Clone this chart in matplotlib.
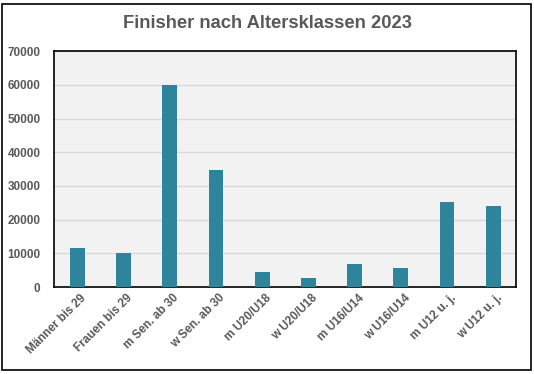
import matplotlib
matplotlib.use('Agg')
import matplotlib.pyplot as plt
import matplotlib.transforms as mtrans
from matplotlib.patches import Rectangle

# data
klassen = ['Männer bis 29', 'Frauen bis 29', 'm Sen. ab 30', 'w Sen. ab 30',
           'm U20/U18', 'w U20/U18', 'm U16/U14', 'w U16/U14',
           'm U12 u. j.', 'w U12 u. j.']
finisher = [11600, 10100, 59900, 34700, 4500, 2700, 6800, 5600, 25200, 24000]

plt.rcParams['font.family'] = ['Liberation Sans', 'DejaVu Sans']
grau = '#595959'

fig = plt.figure(figsize=(5.34, 3.74), dpi=100)
ax = fig.add_axes([54.3/534, 1 - 287/374, (516.3 - 54.3)/534, (287 - 51.3)/374])

ax.bar(range(len(klassen)), finisher, width=0.32, color='#2E849B', zorder=3)

ax.set_facecolor('#F2F2F2')
ax.set_xlim(-0.5, len(klassen) - 0.5)
ax.set_ylim(0, 70000)
ax.set_yticks(range(0, 70001, 10000))
ax.grid(axis='y', color='#D9D9D9', lw=1, zorder=0)
for s in ax.spines.values():
    s.set_color('black')
    s.set_linewidth(1.2)

ax.tick_params(length=0, colors=grau, labelsize=8.5)
ax.tick_params(axis='y', pad=10)
ax.set_xticks(range(len(klassen)))
ax.set_xticklabels(klassen, rotation=45, ha='right', rotation_mode='anchor', fontweight='bold')
shift = mtrans.ScaledTranslation(3/100, 0, fig.dpi_scale_trans)
for t in ax.get_xticklabels():
    t.set_transform(t.get_transform() + shift)
for t in ax.get_yticklabels():
    t.set_fontweight('bold')

fig.text(0.5, 1 - 23/374, 'Finisher nach Altersklassen 2023', ha='center', va='center',
         fontsize=13.2, fontweight='bold', color=grau)

fig.patches.append(Rectangle((2/534, 1 - 370/374), 529/534, 366/374, transform=fig.transFigure,
                             fill=False, ec='black', lw=1.2))

fig.savefig('out.png', dpi=100)
